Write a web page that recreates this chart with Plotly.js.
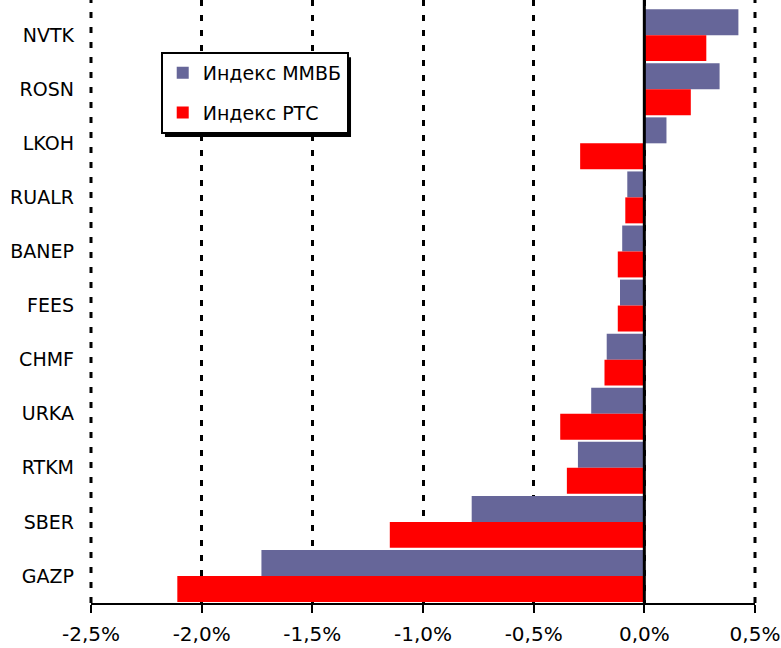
<!DOCTYPE html>
<html>
<head>
<meta charset="utf-8">
<script src="https://cdn.plot.ly/plotly-3.0.1.min.js"></script>
<style>html,body{margin:0;padding:0;background:#fff;}#chart{width:781px;height:648px;}</style>
</head>
<body>
<div id="chart"></div>
<script>
const categories = ["NVTK","ROSN","LKOH","RUALR","BANEP","FEES","CHMF","URKA","RTKM","SBER","GAZP"];
const seriesNames = ["Индекс ММВБ","Индекс РТС"];
const micexValues = [0.425, 0.34, 0.10, -0.077, -0.10, -0.11, -0.17, -0.24, -0.30, -0.78, -1.73];
const rtsValues   = [0.28, 0.21, -0.29, -0.086, -0.12, -0.12, -0.18, -0.38, -0.35, -1.15, -2.11];
const tickValues = [-2.5, -2.0, -1.5, -1.0, -0.5, 0.0, 0.5];
const tickLabels = ["-2,5%","-2,0%","-1,5%","-1,0%","-0,5%","0,0%","0,5%"];

const FONT = "'DejaVu Sans', Verdana, sans-serif";
const GRID_DASH = '6px,9px';

const traces = [
  {type:'bar', orientation:'h', name:seriesNames[0], legendgroup:'a', y:categories, x:micexValues,
   marker:{color:'#666699'}, hoverinfo:'x+y'},
  {type:'bar', orientation:'h', name:seriesNames[1], legendgroup:'b', y:categories, x:rtsValues,
   marker:{color:'#ff0000'}, hoverinfo:'x+y'}
];

const edgeGrid = (px) => ({type:'line', xref:'paper', yref:'paper', x0:px, x1:px, y0:0, y1:1,
  line:{color:'#000', width:3, dash:GRID_DASH}, layer:'below'});

const layout = {
  width:781, height:648,
  margin:{l:91, r:26, t:0, b:45},
  paper_bgcolor:'#ffffff', plot_bgcolor:'#ffffff',
  font:{family:FONT, size:20, color:'#000'},
  barmode:'group', bargap:0.04, bargroupgap:0,
  showlegend:true,
  legend:{x:0.105, y:0.914, xanchor:'left', yanchor:'top',
    bgcolor:'#ffffff', bordercolor:'#000', borderwidth:2,
    traceorder:'grouped', tracegroupgap:12,
    font:{family:FONT, size:19, color:'#000'}},
  xaxis:{range:[-2.5,0.5], tickvals:tickValues, ticktext:tickLabels,
    showline:true, linecolor:'#000', linewidth:2,
    ticks:'outside', ticklen:8, tickwidth:2, tickcolor:'#000', ticklabelstandoff:4,
    showgrid:true, gridcolor:'#000', gridwidth:3, griddash:GRID_DASH,
    zeroline:false, tickfont:{family:FONT, size:20}, fixedrange:true},
  yaxis:{type:'category', range:[10.5,-0.65], showgrid:false, zeroline:false,
    showline:false, ticks:'', ticklabelstandoff:16, tickfont:{family:FONT, size:19}, fixedrange:true},
  shapes:[
    edgeGrid(0), edgeGrid(1),
    {type:'line', xref:'x', yref:'paper', x0:0, x1:0, y0:0, y1:1, line:{color:'#000', width:3}, layer:'above'},
    {type:'rect', xref:'paper', yref:'paper', x0:0.1114, x1:0.3916, y0:0.773, y1:0.905,
     fillcolor:'#000', line:{width:0}, layer:'above'}
  ]
};
Plotly.newPlot('chart', traces, layout, {displayModeBar:false, staticPlot:true});
</script>
</body>
</html>
